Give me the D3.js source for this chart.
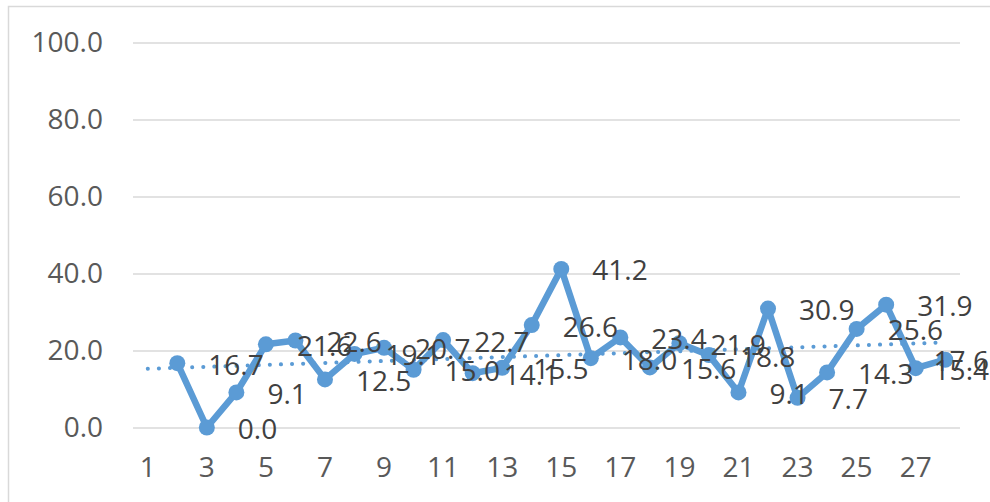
<!DOCTYPE html>
<html>
<head>
<meta charset="utf-8" />
<title>line chart with trend</title>
<style>
body { margin: 0; background: #fff; }
#graph { width: 990px; height: 502px; }
.axis text { font-family: "Open Sans", sans-serif; font-size: 28px; fill: #595959; }
.axis.y .tick line { stroke: #d9d9d9; stroke-width: 1.5; }
.label { font-family: "Open Sans", sans-serif; font-size: 28px; fill: #404040; }
</style>
</head>
<body>
<div id="graph"></div>
<script src="https://cdnjs.cloudflare.com/ajax/libs/d3/7.8.5/d3.min.js"></script>
<script>
// categories 1..28, first one has no value
var categories = ["1","2","3","4","5","6","7","8","9","10","11","12","13","14","15","16","17","18","19","20","21","22","23","24","25","26","27","28"]
var values = [null, 16.7, 0.0, 9.1, 21.6, 22.6, 12.5, 19.1, 20.7, 15.0, 22.7, 14.1, 15.5, 26.6, 41.2,
              18.0, 23.4, 15.6, 21.9, 18.8, 9.1, 30.9, 7.7, 14.3, 25.6, 31.9, 15.4, 17.6]
var yTicks = [0, 20, 40, 60, 80, 100]
var xTicks = ["1","3","5","7","9","11","13","15","17","19","21","23","25","27"]

!(function(){
    "use strict"

    var width = 990, height = 502
    var margin = {top: 42.5, left: 133, bottom: 74.5, right: 30}
    var chartWidth = width - margin.left - margin.right
    var chartHeight = height - margin.top - margin.bottom
    var blue = "#5b9bd5"

    var data = categories.map(function(c, i){ return {cat: c, idx: i + 1, value: values[i]} })
    var points = data.filter(function(d){ return d.value != null })

    var svg = d3.select("#graph").append("svg").attr("width", width).attr("height", height)

    svg.append("rect")
        .attr("x", 8.5).attr("y", 6.5)
        .attr("width", width + 20).attr("height", height + 20)
        .attr("fill", "none").attr("stroke", "#d9d9d9").attr("stroke-width", 1.5)

    var chart = svg.append("g").attr("transform", "translate(" + [margin.left, margin.top] + ")")

    var xScale = d3.scaleBand().domain(categories).range([0, chartWidth]).padding(0)
    var yScale = d3.scaleLinear().domain([0, 100]).range([chartHeight, 0])
    var cx = function(d){ return xScale(d.cat) + xScale.bandwidth() / 2 }

    // axes
    var yAxis = d3.axisLeft(yScale).tickValues(yTicks).tickFormat(d3.format(".1f"))
        .tickSizeInner(-chartWidth).tickSizeOuter(0).tickPadding(30)
    chart.append("g").attr("class", "axis y").call(yAxis)
        .call(function(g){ g.select(".domain").remove() })

    var xAxis = d3.axisBottom(xScale).tickValues(xTicks).tickSize(0).tickPadding(30)
    chart.append("g").attr("class", "axis x")
        .attr("transform", "translate(0," + chartHeight + ")")
        .call(xAxis)
        .call(function(g){ g.select(".domain").remove() })

    // linear trend (least squares over the plotted points)
    var mx = d3.mean(points, function(d){ return d.idx })
    var my = d3.mean(points, function(d){ return d.value })
    var sxy = d3.sum(points, function(d){ return (d.idx - mx) * (d.value - my) })
    var sxx = d3.sum(points, function(d){ return (d.idx - mx) * (d.idx - mx) })
    var slope = sxy / sxx, icpt = my - slope * mx
    var trend = [data[0], data[data.length - 1]].map(function(d){ return {cat: d.cat, value: icpt + slope * d.idx} })

    chart.append("path").datum(trend)
        .attr("fill", "none").attr("stroke", blue).attr("stroke-width", 4)
        .attr("stroke-linecap", "round").attr("stroke-dasharray", "0.1 11")
        .attr("d", d3.line().x(cx).y(function(d){ return yScale(d.value) }))

    // series
    chart.append("path").datum(points)
        .attr("fill", "none").attr("stroke", blue).attr("stroke-width", 6.5)
        .attr("stroke-linejoin", "round")
        .attr("d", d3.line().x(cx).y(function(d){ return yScale(d.value) }))

    chart.selectAll(".dot").data(points).enter().append("circle")
        .attr("class", "dot")
        .attr("cx", cx).attr("cy", function(d){ return yScale(d.value) })
        .attr("r", 8).attr("fill", blue)

    // data labels to the right, kept inside the frame
    chart.selectAll(".label").data(points).enter().append("text")
        .attr("class", "label")
        .attr("x", function(d){ return cx(d) + 31 })
        .attr("y", function(d){ return yScale(d.value) + 4 })
        .attr("dominant-baseline", "middle")
        .text(function(d){ return d3.format(".1f")(d.value) })
        .each(function(){
            var w = this.getComputedTextLength()
            var x = +this.getAttribute("x")
            var maxX = width - margin.left - 1
            if (x + w > maxX) this.setAttribute("x", maxX - w)
        })
}());
</script>
</body>
</html>
